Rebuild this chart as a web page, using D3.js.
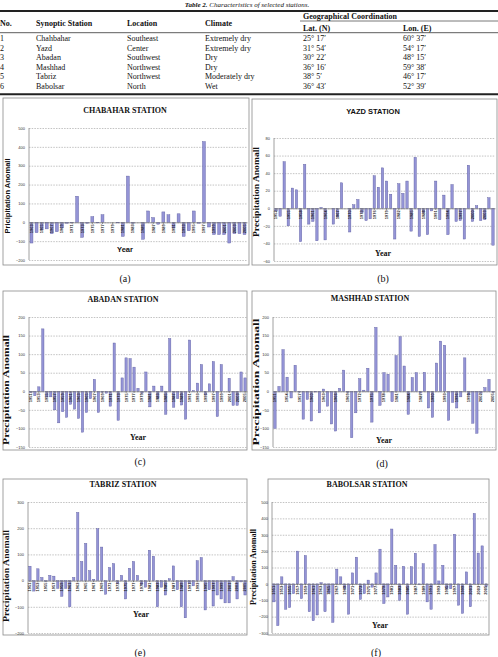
<!DOCTYPE html>
<html>
<head>
<meta charset="utf-8">
<script src="https://cdn.jsdelivr.net/npm/d3@7"></script>
<style>
  body { margin: 0; background: #fff; }
  svg { display: block; }
</style>
</head>
<body>
<div id="chart-area"></div>
<script>
// ---- table data ----
const stationNos = ['1', '2', '3', '4', '5', '6'];
const stationNames = ['Chahbahar', 'Yazd', 'Abadan', 'Mashhad', 'Tabriz', 'Babolsar'];
const locations = ['Southeast', 'Center', 'Southwest', 'Northwest', 'Northwest', 'North'];
const climates = ['Extremely dry', 'Extremely dry', 'Dry', 'Dry', 'Moderately dry', 'Wet'];
const lats = ['25\u00b0 17\u2032', '31\u00b0 54\u2032', '30\u00b0 22\u2032', '36\u00b0 16\u2032', '38\u00b0 5\u2032', '36\u00b0 43\u2032'];
const lons = ['60\u00b0 37\u2032', '54\u00b0 17\u2032', '48\u00b0 15\u2032', '59\u00b0 38\u2032', '46\u00b0 17\u2032', '52\u00b0 39\u2032'];

// ---- chart data (precipitation anomaly per year) ----
const chabaharYears = d3.range(1963, 2006);
const chabaharValues = [-110, -55, -40, -35, -60, -50, -30, -5, -3, 138, -80, -5, 30, -3, 40, 0, 0, -3, -75, 245,
  -5, 0, -90, 60, 25, -10, 55, 40, -30, 45, -75, -45, 60, -5, 428, -25, -65, -65, -65, -110, -60, -60, -65];
const chabaharTicks = [-200, -100, 0, 100, 200, 300, 400, 500];

const yazdYears = d3.range(1952, 2006);
const yazdValues = [-3, -9, 53, -20, 23, 21, -38, 50, -18, -15, -37, 1, -36, 0, -18, -10, 29, 0, -27, 4,
  10, -5, -14, -12, 37, 24, 46, 31, 16, -35, 28, 17, 31, -26, 58, -32, -5, -30, -3, 31,
  -13, 15, -30, 27, -15, -14, -35, 49, -15, 3, -14, -13, 12, -42];
const yazdTicks = [-60, -40, -20, 0, 20, 40, 60, 80];

const abadanYears = d3.range(1951, 2006);
const abadanValues = [-3, -12, 12, 168, -15, -15, -50, -85, -55, -70, -35, -48, -73, -110, -57, -20, 32, -57, -3, -5,
  -40, 130, -78, 36, 90, 88, 65, 8, -5, 52, -42, 14, -20, 14, -62, 142, -43, -20, -37, -75,
  138, 2, 22, 72, -10, 20, 80, -68, 72, 0, 35, -38, -38, 52, 36];
const abadanTicks = [-150, -100, -50, 0, 50, 100, 150, 200];

const mashhadYears = d3.range(1951, 2006);
const mashhadValues = [-100, 13, 112, 38, -18, 70, -2, -75, -22, -80, -2, -58, 6, -40, -88, -107, 8, 57, -3, -125,
  -58, 34, 3, 62, -83, 172, -38, 50, 46, -28, 96, 147, 68, -62, 37, 50, -5, 51, -45, -70,
  76, 135, 124, -78, -30, -45, -15, 90, -10, -86, -113, -5, 10, 32, -3];
const mashhadTicks = [-150, -100, -50, 0, 50, 100, 150, 200];

const tabrizYears = d3.range(1951, 2006);
const tabrizValues = [55, -40, 45, 12, -3, 20, 17, -30, -60, -30, -100, 12, 260, 73, 142, 38, 5, 198, 128, -52,
  50, 65, -10, 20, -70, 47, 73, 20, -15, -25, 116, 93, -100, -25, -55, 7, 56, -35, -100, -142,
  -10, -20, 76, 88, -112, -35, -97, -55, -70, -85, -85, 15, -70, -5, -55];
const tabrizTicks = [-200, -100, 0, 100, 200, 300];

const babolsarYears = d3.range(1951, 2006);
const babolsarValues = [-110, -255, 43, -155, -145, -60, 200, -90, 173, -170, -225, -190, 7, -170, -55, -235, 90, 43, -30, -185,
  67, 163, -95, -60, 23, -20, 67, 212, -120, -80, 335, 113, -100, 107, -185, 105, 187, -5, 123, -110,
  -155, 240, 18, 113, -30, -30, 303, -130, -180, 73, -140, 430, 188, 232, -15];
const babolsarTicks = [-300, -200, -100, 0, 100, 200, 300, 400, 500];

const serif = '"Liberation Serif", "Times New Roman", serif';
const sans = '"Liberation Sans", Arial, sans-serif';

const svg = d3.select('#chart-area').append('svg')
  .attr('width', 498)
  .attr('height', 657);

// ---------- table ----------
const tbl = svg.append('g').attr('font-family', serif).attr('font-size', '8px').attr('fill', '#111');

let cap = tbl.append('text')
  .attr('x', 247).attr('y', 7)
  .attr('text-anchor', 'middle')
  .attr('font-size', '7px')
  .attr('font-style', 'italic');
cap.append('tspan').attr('font-weight', 'bold').text('Table 2. ');
cap.append('tspan').text('Characteristics of selected stations.');

tbl.append('line').attr('x1', 0).attr('x2', 498).attr('y1', 11).attr('y2', 11)
  .attr('stroke', '#222').attr('stroke-width', 2);
tbl.append('line').attr('x1', 300).attr('x2', 498).attr('y1', 21).attr('y2', 21)
  .attr('stroke', '#555').attr('stroke-width', 0.8);
tbl.append('line').attr('x1', 0).attr('x2', 498).attr('y1', 32.7).attr('y2', 32.7)
  .attr('stroke', '#333').attr('stroke-width', 0.8);
tbl.append('line').attr('x1', 0).attr('x2', 498).attr('y1', 94.3).attr('y2', 94.3)
  .attr('stroke', '#222').attr('stroke-width', 2);

const colX = [0, 36, 127, 205, 300, 403];
const headers = ['No.', 'Synoptic Station', 'Location', 'Climate'];
headers.forEach((h, i) => {
  tbl.append('text').attr('x', colX[i]).attr('y', 25.5)
    .attr('font-weight', 'bold').text(h);
});
tbl.append('text').attr('x', 303).attr('y', 19).attr('font-weight', 'bold').text('Geographical Coordination');
tbl.append('text').attr('x', 303).attr('y', 30.5).attr('font-weight', 'bold').text('Lat. (N)');
tbl.append('text').attr('x', 403).attr('y', 30.5).attr('font-weight', 'bold').text('Lon. (E)');

const rowY = [41, 50.5, 60, 69.7, 79, 88.7];
const cols = [stationNos, stationNames, locations, climates, lats, lons];
cols.forEach((col, c) => {
  col.forEach((v, r) => {
    tbl.append('text')
      .attr('x', c === 4 ? 303 : colX[c])
      .attr('y', rowY[r])
      .text(v);
  });
});

// ---------- charts ----------
const charts = [
  { title: 'CHABAHAR STATION', tFont: serif, tSize: 8, years: chabaharYears, values: chabaharValues, ticks: chabaharTicks, every: 2,
    box: [3, 98, 249, 265], plot: [29, 247, 128, 260], titleX: 125, titleY: 110,
    yt: { text: 'Pricipitation Anomall', font: sans, size: 7, x: 7.3, y: 196, len: 75 },
    yr: { font: sans, size: 7.5, x: 125, y: 249 }, caption: { text: '(a)', x: 125, y: 278 } },
  { title: 'YAZD  STATION', tFont: sans, tSize: 7.5, years: yazdYears, values: yazdValues, ticks: yazdTicks, every: 3,
    box: [252, 99, 497, 265], plot: [274, 495, 138, 261], titleX: 373, titleY: 111,
    yt: { text: 'Precipitation Anomall', font: serif, size: 8, x: 256, y: 192, len: 90 },
    yr: { font: serif, size: 8, x: 383, y: 253 }, caption: { text: '(b)', x: 383, y: 278 } },
  { title: 'ABADAN STATION', tFont: serif, tSize: 8, years: abadanYears, values: abadanValues, ticks: abadanTicks, every: 2,
    box: [3, 291, 247, 450], plot: [29, 247, 317, 447], titleX: 123, titleY: 299,
    yt: { text: 'Precipitation Anomall', font: serif, size: 8, x: 6.5, y: 390, len: 110 },
    yr: { font: serif, size: 8, x: 138, y: 437 }, caption: { text: '(c)', x: 140, y: 461 } },
  { title: 'MASHHAD STATION', tFont: serif, tSize: 8, years: mashhadYears, values: mashhadValues, ticks: mashhadTicks, every: 3,
    box: [252, 291, 496, 450], plot: [273, 495, 317, 447], titleX: 370, titleY: 298,
    yt: { text: 'Precipitation Anomall', font: serif, size: 8, x: 256, y: 382, len: 127 },
    yr: { font: serif, size: 8, x: 384, y: 440 }, caption: { text: '(d)', x: 382, y: 463 } },
  { title: 'TABRIZ STATION', tFont: serif, tSize: 8, years: tabrizYears, values: tabrizValues, ticks: tabrizTicks, every: 2,
    box: [3, 479, 247, 635], plot: [28, 247, 502, 633], titleX: 123, titleY: 484,
    yt: { text: 'Precipitation Anomall', font: serif, size: 8, x: 6.5, y: 576, len: 92 },
    yr: { font: serif, size: 8, x: 141, y: 614 }, caption: { text: '(e)', x: 140, y: 652 } },
  { title: 'BABOLSAR STATION', tFont: serif, tSize: 8, years: babolsarYears, values: babolsarValues, ticks: babolsarTicks, every: 2,
    box: [268, 479, 489, 635], plot: [272, 488, 502, 633], titleX: 367, titleY: 484,
    yt: { text: 'Precipitation Anomall', font: serif, size: 8, x: 253.5, y: 567, len: 76 },
    yr: { font: serif, size: 8, x: 380, y: 625 }, caption: { text: '(f)', x: 376, y: 652 } }
];

charts.forEach(drawChart);

function drawChart(c) {
  let g = svg.append('g');

  // outer frame
  g.append('rect')
    .attr('x', c.box[0]).attr('y', c.box[1])
    .attr('width', c.box[2] - c.box[0]).attr('height', c.box[3] - c.box[1])
    .attr('fill', '#fff').attr('stroke', '#8a8a8a').attr('stroke-width', 0.8);

  let [left, right, top, bottom] = c.plot;

  let x = d3.scaleBand()
    .domain(c.years)
    .range([left, right])
    .paddingInner(0.42)
    .paddingOuter(0.2);

  let y = d3.scaleLinear()
    .domain(d3.extent(c.ticks))
    .range([bottom, top]);

  // dashed gridlines + tick labels
  let yAxis = g.append('g')
    .attr('transform', 'translate(' + left + ', 0)')
    .call(d3.axisLeft(y).tickValues(c.ticks).tickSize(-(right - left)).tickPadding(4));
  yAxis.select('.domain').remove();
  yAxis.selectAll('line')
    .attr('stroke', '#9a9a9a')
    .attr('stroke-width', 0.6)
    .attr('stroke-dasharray', '1.5,1.2');
  yAxis.selectAll('text')
    .attr('font-family', sans)
    .attr('font-size', '4px')
    .attr('fill', '#333');

  // y axis line
  g.append('line')
    .attr('x1', left).attr('x2', left).attr('y1', top).attr('y2', bottom)
    .attr('stroke', '#888').attr('stroke-width', 0.8);

  // bars
  g.selectAll('rect.bar')
    .data(c.values)
    .enter()
    .append('rect')
      .attr('class', 'bar')
      .attr('x', (d, i) => x(c.years[i]))
      .attr('y', d => y(Math.max(0, d)))
      .attr('width', x.bandwidth())
      .attr('height', d => Math.abs(y(d) - y(0)))
      .attr('fill', '#9494d6')
      .attr('stroke', '#5a5a9e')
      .attr('stroke-width', 0.4);

  // category axis at zero
  let xAxis = g.append('g')
    .attr('transform', 'translate(0, ' + y(0) + ')')
    .call(d3.axisBottom(x)
      .tickValues(c.years.filter((d, i) => i % c.every === 0))
      .tickSize(1.5)
      .tickSizeOuter(0));
  xAxis.select('.domain').attr('stroke', '#777').attr('stroke-width', 0.7);
  xAxis.selectAll('line').attr('stroke', '#777');
  xAxis.selectAll('text')
    .attr('font-family', sans)
    .attr('font-weight', 'bold')
    .attr('font-size', '4px')
    .attr('fill', '#222')
    .attr('y', 0)
    .attr('x', -2)
    .attr('dy', '0.35em')
    .attr('text-anchor', 'end')
    .attr('transform', 'rotate(-90)');

  // title
  g.append('text')
    .attr('x', c.titleX).attr('y', c.titleY)
    .attr('text-anchor', 'middle')
    .attr('dominant-baseline', 'central')
    .attr('font-family', c.tFont)
    .attr('font-weight', 'bold')
    .attr('font-size', c.tSize + 'px')
    .attr('fill', '#111')
    .text(c.title);

  // y label
  g.append('text')
    .attr('transform', 'translate(' + c.yt.x + ', ' + c.yt.y + ') rotate(-90)')
    .attr('text-anchor', 'middle')
    .attr('dominant-baseline', 'central')
    .attr('font-family', c.yt.font)
    .attr('font-weight', 'bold')
    .attr('font-size', c.yt.size + 'px')
    .attr('textLength', c.yt.len)
    .attr('lengthAdjust', 'spacingAndGlyphs')
    .attr('fill', '#111')
    .text(c.yt.text);

  // x label
  g.append('text')
    .attr('x', c.yr.x).attr('y', c.yr.y)
    .attr('text-anchor', 'middle')
    .attr('dominant-baseline', 'central')
    .attr('font-family', c.yr.font)
    .attr('font-weight', 'bold')
    .attr('font-size', c.yr.size + 'px')
    .attr('fill', '#111')
    .text('Year');

  // panel caption
  svg.append('text')
    .attr('x', c.caption.x).attr('y', c.caption.y)
    .attr('text-anchor', 'middle')
    .attr('dominant-baseline', 'central')
    .attr('font-family', serif)
    .attr('font-size', '10px')
    .attr('fill', '#111')
    .text(c.caption.text);
}
</script>
</body>
</html>
